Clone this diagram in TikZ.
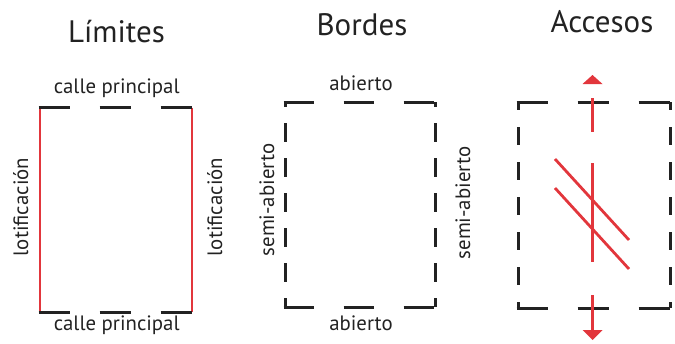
\documentclass[tikz,border=0pt]{standalone}
\usepackage{fontspec}
\setmainfont{PT Sans}
\definecolor{accred}{HTML}{E2363C}
\definecolor{dk}{HTML}{222222}
\tikzset{
  blk/.style={draw=dk, line width=3pt},
  rd/.style={draw=accred, line width=2.8pt},
  ttl/.style={font=\fontsize{31}{36}\selectfont, text=dk, anchor=base, inner sep=0pt},
  lbl/.style={font=\fontsize{20.8}{24}\selectfont, text=dk, anchor=base, inner sep=0pt},
}
\begin{document}
\begin{tikzpicture}[x=1pt,y=-1pt]
\useasboundingbox (0,0) rectangle (675,343);
% titles
\node[ttl] (t1) at (116.5,42) {Límites};
\node[ttl] (t2) at (362,35) {Bordes};
\node[ttl] (t3) at (602,32) {Accesos};

% ---- Limites
\coordinate (a1) at (40,107.7);
\coordinate (a2) at (192,107.7);
\coordinate (a3) at (192,312);
\coordinate (a4) at (40,312);
\draw[rd] (a1) -- (a4);
\draw[rd] (a2) -- (a3);
\draw[blk, dash pattern=on 31pt off 30pt] ([xshift=-1.4pt]a1) -- ([xshift=1.4pt]a2);
\draw[blk, dash pattern=on 31pt off 30pt] ([xshift=-1.4pt]a4) -- ([xshift=1.4pt]a3);
\node[lbl] (l1) at (116.7,93) {calle principal};
\node[lbl] (l2) at (116.7,330) {calle principal};
\node[lbl, rotate=90] (l3) at (28,207) {lotificación};
\node[lbl, rotate=90] (l4) at (222,207) {lotificación};

% ---- Bordes
\coordinate (b1) at (285,102);
\coordinate (b2) at (435,102);
\coordinate (b3) at (435,307);
\coordinate (b4) at (285,307);
\draw[blk, dash pattern=on 30pt off 30pt] ([xshift=-1.5pt]b1) -- ([xshift=1.5pt]b2);
\draw[blk, dash pattern=on 30pt off 30pt] ([xshift=-1.5pt]b4) -- ([xshift=1.5pt]b3);
\draw[blk, dash pattern=on 19pt off 16pt, dash phase=14pt] (b1) -- (b4);
\draw[blk, dash pattern=on 19pt off 16pt, dash phase=14pt] (b2) -- (b3);
\node[lbl] (m1) at (361,90) {abierto};
\node[lbl] (m2) at (361,330) {abierto};
\node[lbl, rotate=90] (m3) at (274,200) {semi-abierto};
\node[lbl, rotate=90] (m4) at (470,203) {semi-abierto};

% ---- Accesos
\coordinate (c1) at (518,102);
\coordinate (c2) at (670,102);
\coordinate (c3) at (670,308);
\coordinate (c4) at (518,308);
\draw[blk, dash pattern=on 31pt off 30pt] ([xshift=-1.5pt]c1) -- ([xshift=1.5pt]c2);
\draw[blk, dash pattern=on 31pt off 30pt] ([xshift=-1.5pt]c4) -- ([xshift=1.5pt]c3);
\draw[blk, dash pattern=on 18pt off 17pt, dash phase=10pt] (c1) -- (c4);
\draw[blk, dash pattern=on 18pt off 17pt, dash phase=10pt] (c2) -- (c3);
% red access symbol
\coordinate (u0) at (592.5,98);
\coordinate (u1) at (592.5,132);
\coordinate (ut) at (592.5,75);
\draw[rd] (u0) -- (u1);
\fill[accred] (ut) -- ([xshift=10pt,yshift=-9pt]ut) -- ([xshift=-10pt,yshift=-9pt]ut) -- cycle;
\coordinate (d0) at (592.5,295);
\coordinate (d1) at (592.5,331);
\coordinate (dt) at (592.5,340);
\draw[rd] (d0) -- (d1);
\fill[accred] (dt) -- ([xshift=10pt,yshift=10pt]dt) -- ([xshift=-10pt,yshift=10pt]dt) -- cycle;
\coordinate (v0) at (592.5,163);
\coordinate (v1) at (592.5,262);
\draw[rd] (v0) -- (v1);
\coordinate (p0) at (555,159);
\coordinate (p1) at (629,240);
\coordinate (q0) at (555,188);
\coordinate (q1) at (629,269);
\draw[rd] (p0) -- (p1);
\draw[rd] (q0) -- (q1);
\end{tikzpicture}
\end{document}
